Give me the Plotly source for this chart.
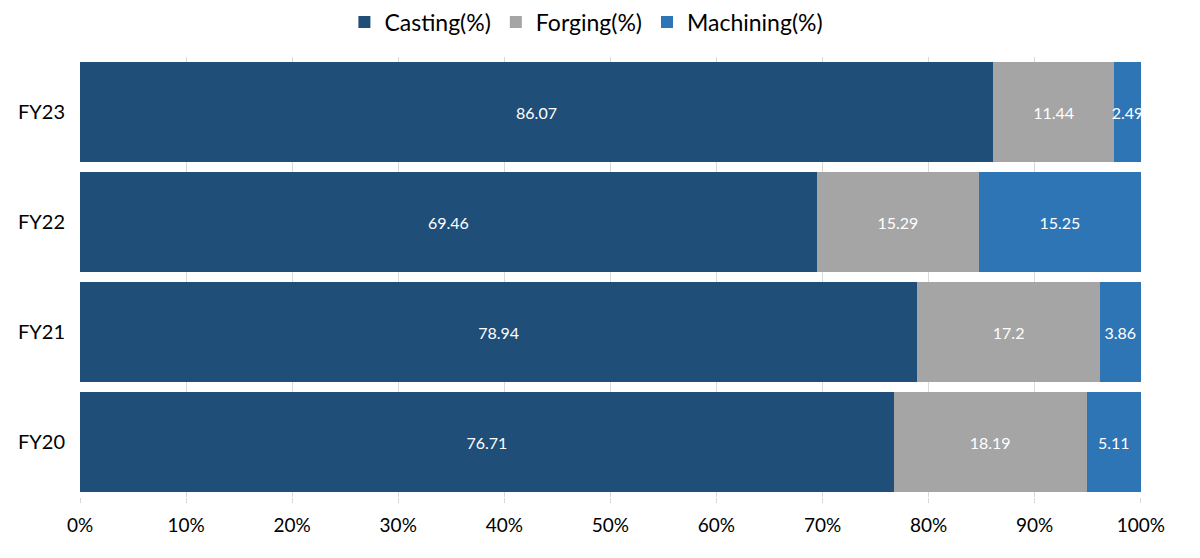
import plotly.graph_objects as go

years = ["FY20", "FY21", "FY22", "FY23"]
casting = [76.71, 78.94, 69.46, 86.07]
forging = [18.19, 17.2, 15.29, 11.44]
machining = [5.11, 3.86, 15.25, 2.49]
tick_vals = [0, 10, 20, 30, 40, 50, 60, 70, 80, 90, 100]
tick_text = [f"{v}%" for v in tick_vals]

FONT = "Lato, Open Sans, sans-serif"

fig = go.Figure()
for name, vals, color in [
    ("Casting(%)", casting, "#1F4E79"),
    ("Forging(%)", forging, "#A5A5A5"),
    ("Machining(%)", machining, "#2E75B6"),
]:
    fig.add_trace(go.Bar(
        y=years, x=vals, name=name, orientation="h",
        marker=dict(color=color, line=dict(width=0)),
        text=[str(v) for v in vals], textposition="inside", textangle=0,
        insidetextanchor="middle", constraintext="none",
        textfont=dict(color="white", size=16, family=FONT),
        cliponaxis=True,
    ))

fig.update_layout(
    barmode="stack", bargap=0.09,
    width=1200, height=558,
    margin=dict(l=72, r=67, t=49, b=69, autoexpand=False),
    paper_bgcolor="white", plot_bgcolor="white",
    font=dict(family=FONT, size=20, color="#000000"),
    legend=dict(orientation="h", x=0.482, xanchor="center", xref="container",
                y=1 - 14 / 558, yanchor="middle", yref="container",
                font=dict(size=23), traceorder="normal"),
    xaxis=dict(range=[0, 100.02], tickvals=tick_vals, ticktext=tick_text,
               showgrid=True, gridcolor="#D9D9D9", gridwidth=1,
               ticks="outside", ticklen=5, tickcolor="#D9D9D9",
               ticklabelstandoff=6,
               zeroline=False, showline=False, tickfont=dict(size=19),
               automargin=False),
    yaxis=dict(categoryorder="array", categoryarray=years,
               showgrid=False, ticks="", ticklabelstandoff=14, tickfont=dict(size=20),
               automargin=False),
)
fig.write_html("out.html")
